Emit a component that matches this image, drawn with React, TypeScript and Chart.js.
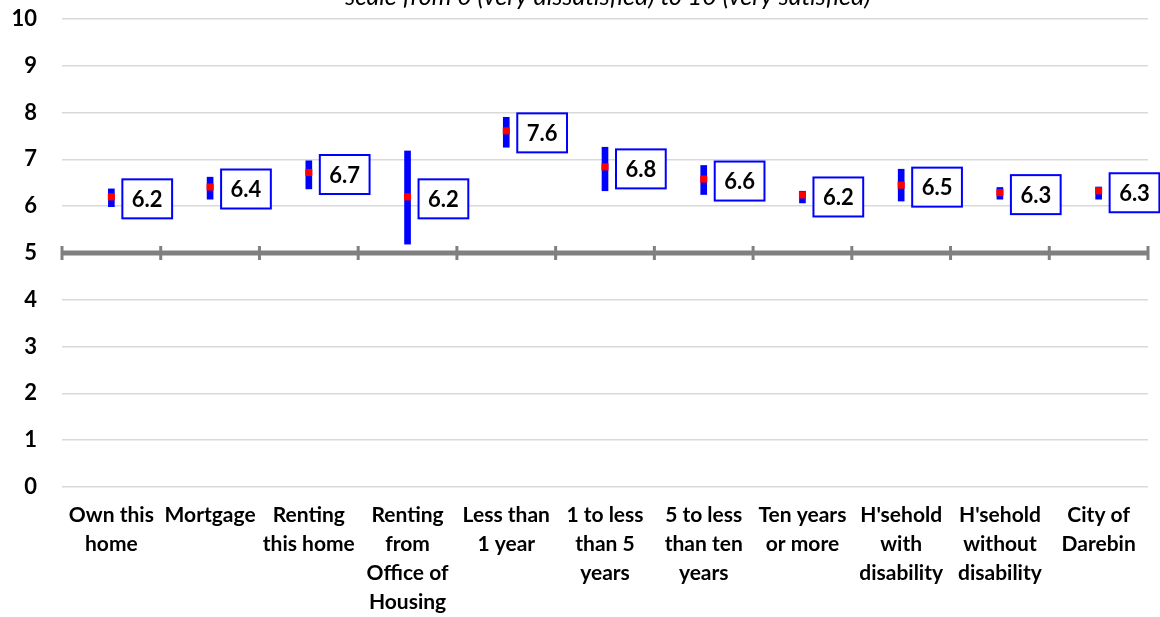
import React, { useEffect, useRef } from "react";
import { Chart, registerables } from "chart.js";

Chart.register(...registerables);

const categories: string[][] = [
  ["Own this", "home"],
  ["Mortgage"],
  ["Renting", "this home"],
  ["Renting", "from", "Office of", "Housing"],
  ["Less than", "1 year"],
  ["1 to less", "than 5", "years"],
  ["5 to less", "than ten", "years"],
  ["Ten years", "or more"],
  ["H'sehold", "with", "disability"],
  ["H'sehold", "without", "disability"],
  ["City of", "Darebin"],
];

const means = [6.2, 6.41, 6.72, 6.2, 7.61, 6.84, 6.58, 6.24, 6.45, 6.29, 6.33];
const lower = [5.99, 6.15, 6.37, 5.19, 7.26, 6.33, 6.25, 6.07, 6.11, 6.15, 6.15];
const upper = [6.37, 6.62, 6.97, 7.18, 7.9, 7.26, 6.87, 6.32, 6.79, 6.4, 6.41];
const valueLabels = ["6.2", "6.4", "6.7", "6.2", "7.6", "6.8", "6.6", "6.2", "6.5", "6.3", "6.3"];
const yTicks = [0, 1, 2, 3, 4, 5, 6, 7, 8, 9, 10];
const crossValue = 5;
const titleText = "scale from 0 (very dissatisfied) to 10 (very satisfied)";

const FONT = "Lato, 'Open Sans', sans-serif";

const decorPlugin = {
  id: "decor",
  beforeDatasetsDraw(chart: any) {
    const { ctx, chartArea, scales } = chart;
    const y = scales.y.getPixelForValue(crossValue);
    const n = categories.length;
    const w = (chartArea.right - chartArea.left) / n;
    ctx.save();
    ctx.strokeStyle = "#808080";
    ctx.lineWidth = 5;
    ctx.beginPath();
    ctx.moveTo(chartArea.left, y);
    ctx.lineTo(chartArea.right, y);
    ctx.stroke();
    ctx.lineWidth = 3;
    for (let i = 0; i <= n; i++) {
      const x = chartArea.left + i * w;
      ctx.beginPath();
      ctx.moveTo(x, y - 7);
      ctx.lineTo(x, y + 7);
      ctx.stroke();
    }
    ctx.restore();
  },
  afterDraw(chart: any) {
    const { ctx, scales, chartArea } = chart;
    ctx.save();
    ctx.font = `bold 22px ${FONT}`;
    ctx.textBaseline = "middle";
    ctx.textAlign = "center";
    means.forEach((m, i) => {
      const cx = scales.x.getPixelForValue(i);
      const cy = scales.y.getPixelForValue(m);
      const tw = ctx.measureText(valueLabels[i]).width;
      const bw = tw + 19;
      const bh = 39;
      const bx = cx + 11;
      const by = cy - bh / 2 + 2;
      ctx.fillStyle = "#ffffff";
      ctx.fillRect(bx, by, bw, bh);
      ctx.strokeStyle = "#0000ff";
      ctx.lineWidth = 2;
      ctx.strokeRect(bx, by, bw, bh);
      ctx.fillStyle = "#000000";
      ctx.fillText(valueLabels[i], bx + bw / 2, by + bh / 2 + 1);
    });
    ctx.font = `italic 25px ${FONT}`;
    ctx.textAlign = "center";
    ctx.textBaseline = "alphabetic";
    ctx.fillStyle = "#000000";
    ctx.fillText(titleText, (chartArea.left + chartArea.right) / 2 + 3, 5);
    ctx.restore();
  },
};

export default function App() {
  const ref = useRef<HTMLCanvasElement | null>(null);
  useEffect(() => {
    if (!ref.current) return;
    const chart = new Chart(ref.current, {
      type: "bar",
      data: {
        labels: categories as any,
        datasets: [
          {
            type: "line",
            label: "Mean",
            data: means,
            showLine: false,
            pointStyle: "rect",
            pointRadius: 5,
            pointBorderWidth: 0,
            pointBackgroundColor: "#ff0000",
            pointBorderColor: "#ff0000",
            order: 0,
          } as any,
          {
            type: "bar",
            label: "Range",
            data: lower.map((l, i) => [l, upper[i]]) as any,
            backgroundColor: "#0000ff",
            barThickness: 6,
            borderWidth: 0,
            grouped: false,
            order: 1,
          },
        ],
      },
      options: {
        responsive: false,
        animation: false,
        layout: { padding: { top: 19, right: 12, left: 0, bottom: 0 } },
        plugins: {
          legend: { display: false },
          tooltip: { enabled: false },
          title: { display: false },
        },
        scales: {
          x: {
            offset: true,
            grid: { display: false, drawTicks: false },
            border: { display: false },
            ticks: {
              autoSkip: false,
              maxRotation: 0,
              minRotation: 0,
              padding: 14,
              color: "#000000",
              font: { family: FONT, size: 21, weight: "bold", lineHeight: "29px" } as any,
            },
            afterFit: (s: any) => {
              s.height = 130;
            },
          },
          y: {
            min: 0,
            max: 10,
            afterBuildTicks: (s: any) => {
              s.ticks = yTicks.map((v) => ({ value: v }));
            },
            grid: {
              color: "#d9d9d9",
              lineWidth: 1.5,
              drawTicks: true,
              tickLength: 25,
              tickColor: "rgba(0,0,0,0)",
            },
            border: { display: false },
            ticks: {
              padding: 0,
              color: "#000000",
              font: { family: FONT, size: 22, weight: "bold" },
            },
            afterFit: (s: any) => {
              s.width = 62;
            },
          },
        },
      },
      plugins: [decorPlugin],
    });
    return () => chart.destroy();
  }, []);
  return (
    <div style={{ position: "absolute", left: 0, top: 0, width: 1160, height: 617, background: "#fff" }}>
      <canvas ref={ref} width={1160} height={617} />
    </div>
  );
}
